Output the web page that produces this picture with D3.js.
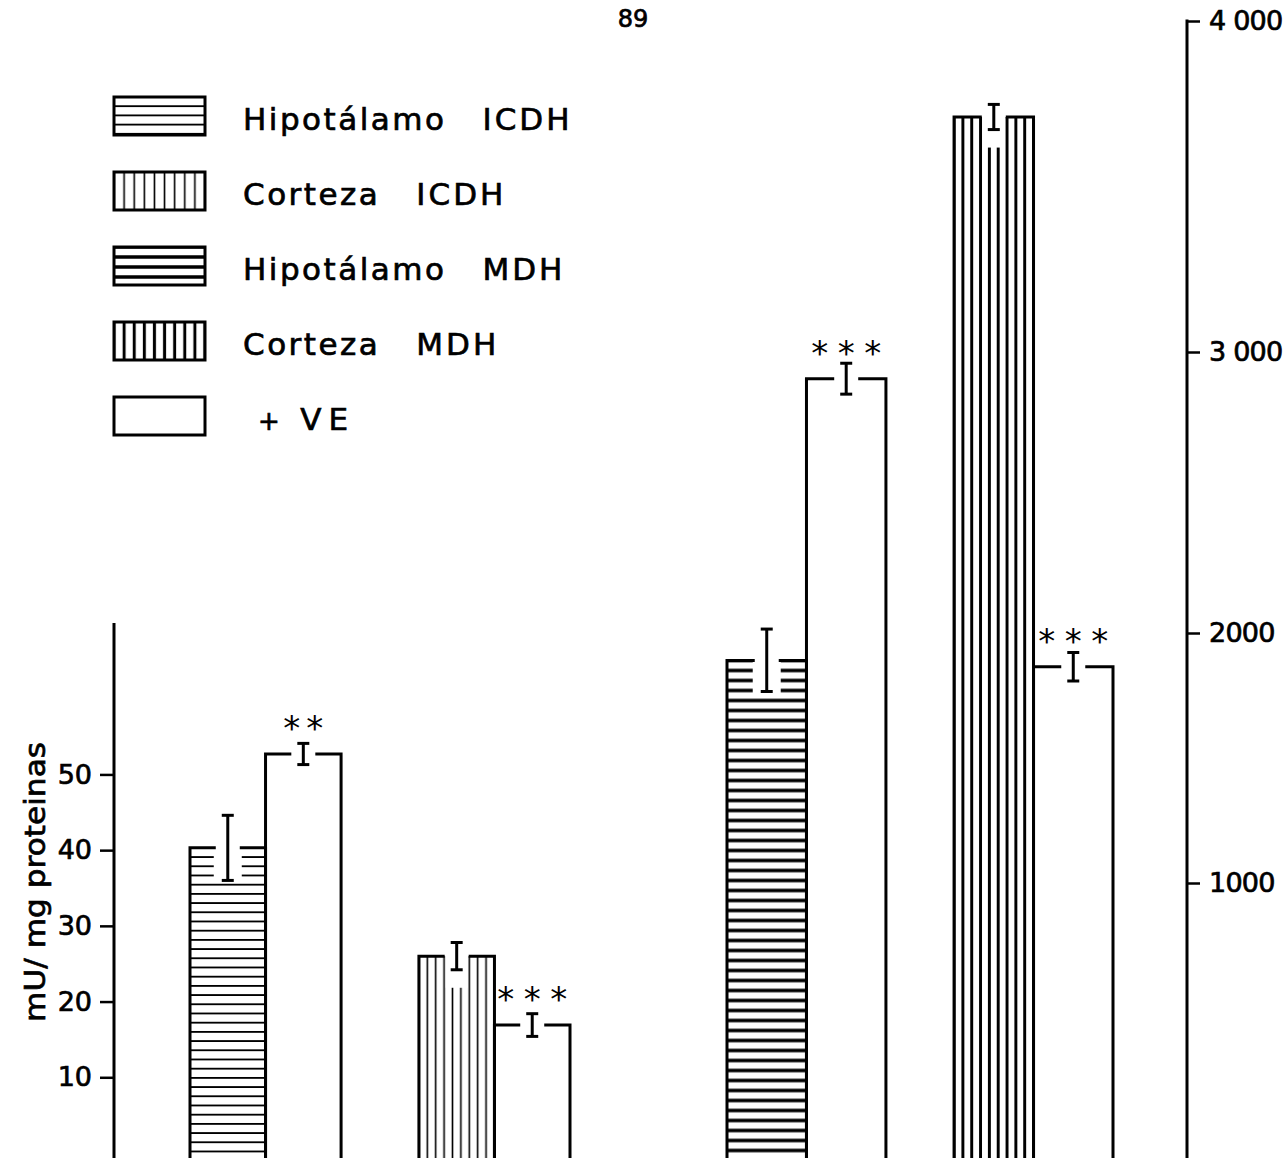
<!DOCTYPE html>
<html>
<head>
<meta charset="utf-8">
<script src="https://cdn.jsdelivr.net/npm/d3@7"></script>
<style>
  body { margin: 0; background: #fff; }
  svg { display: block; font-family: "DejaVu Sans", sans-serif; }
</style>
</head>
<body>
<svg id="fig" width="1288" height="1158"></svg>
<script>
// ICDH activity (left axis, mU/mg proteinas): control vs +VE, mean and error
const icdhTissues = ["Hipotálamo", "Corteza"];
const icdhControl = [40.3, 26.0];
const icdhControlErr = [4.3, 1.8];
const icdhVE = [52.7, 16.9];
const icdhVEErr = [1.4, 1.5];
const icdhSignif = ["* *", "* * *"];

// MDH activity (right axis)
const mdhTissues = ["Hipotálamo", "Corteza"];
const mdhControl = [1890, 3710];
const mdhControlErr = [124, 38];
const mdhVE = [2905, 1865];
const mdhVEErr = [55, 57];
const mdhSignif = ["* * *", "* * *"];

// axis ticks
const leftTicks = [10, 20, 30, 40, 50];
const rightTicks = [1000, 2000, 3000, 4000];
const rightTickLabels = ["1000", "2000", "3 000", "4 000"];

// legend entries: [tissue, enzyme]
const legendItems = [
  ["Hipotálamo", "ICDH"],
  ["Corteza", "ICDH"],
  ["Hipotálamo", "MDH"],
  ["Corteza", "MDH"],
  ["+", "VE"]
];

const W = 1288, H = 1158;
const plotBottom = H + 4;   // bars and axes run off the bottom edge of the sheet

const svg = d3.select("#fig");
const defs = svg.append("defs");

// hatching used for each tissue / enzyme
const hatchStyles = {
  "Hipotálamo ICDH": { dir: "h", step: 9.2, width: 1.9 },
  "Corteza ICDH":    { dir: "v", lines: 8, width: 1.6 },
  "Hipotálamo MDH":  { dir: "h", step: 10, width: 3.3 },
  "Corteza MDH":     { dir: "v", lines: 8, width: 3 }
};

let patCount = 0;
function hatchFill(style, x0, y0, w) {
  const id = "hatch" + (patCount++);
  const p = defs.append("pattern").attr("id", id).attr("patternUnits", "userSpaceOnUse");
  if (style.dir === "h") {
    const s = style.step;
    p.attr("x", 0).attr("y", y0 - s / 2).attr("width", 40).attr("height", s);
    p.append("rect").attr("width", 40).attr("height", s).attr("fill", "#fff");
    p.append("line").attr("x1", 0).attr("x2", 40).attr("y1", s / 2).attr("y2", s / 2)
      .attr("stroke", "#000").attr("stroke-width", style.width);
  } else {
    const s = w / (style.lines + 1);
    p.attr("x", x0 - s / 2).attr("y", 0).attr("width", s).attr("height", 40);
    p.append("rect").attr("width", s).attr("height", 40).attr("fill", "#fff");
    p.append("line").attr("x1", s / 2).attr("x2", s / 2).attr("y1", 0).attr("y2", 40)
      .attr("stroke", "#000").attr("stroke-width", style.width);
  }
  return `url(#${id})`;
}

// scales: left axis linear; right axis ruled by hand with unequal thousands
const yLeft = d3.scaleLinear().domain([0, 70]).range([1153, 623]);
const yRight = d3.scaleLinear()
  .domain([0, 1000, 2000, 3000, 4000])
  .range([1153, 883, 633, 352, 21]);

const xIcdh = d3.scaleBand().domain(icdhTissues).range([190, 570]).paddingInner(0.34);
const xMdh = d3.scaleBand().domain(mdhTissues).range([727, 1113]).paddingInner(0.3);

const plot = svg.append("g");
const ink = "#000";

function errorBar(x, yTop, yBot) {
  const g = plot.append("g").attr("stroke", ink).attr("stroke-width", 3).attr("fill", "none");
  g.append("line").attr("x1", x).attr("x2", x).attr("y1", yTop).attr("y2", yBot);
  g.append("line").attr("x1", x - 6).attr("x2", x + 6).attr("y1", yTop).attr("y2", yTop);
  g.append("line").attr("x1", x - 6).attr("x2", x + 6).attr("y1", yBot).attr("y2", yBot);
}

function outline(x0, w, yTop, xMid) {
  const gap = 12;
  const path = d3.path();
  path.moveTo(x0, plotBottom);
  path.lineTo(x0, yTop);
  path.lineTo(xMid - gap, yTop);
  path.moveTo(xMid + gap, yTop);
  path.lineTo(x0 + w, yTop);
  path.lineTo(x0 + w, plotBottom);
  plot.append("path").attr("d", path.toString())
    .attr("fill", "none").attr("stroke", ink).attr("stroke-width", 3)
    .attr("stroke-linejoin", "miter");
}

function drawBlock(tissues, enzyme, ctrl, ctrlErr, ve, veErr, signif, xScale, yScale) {
  const sub = d3.scaleBand().domain(["control", "ve"]).range([0, xScale.bandwidth()]);
  tissues.forEach((t, i) => {
    const gx = xScale(t);
    const style = hatchStyles[t + " " + enzyme];
    const w = sub.bandwidth();

    // control bar, hatched
    const cx0 = gx + sub("control");
    const cMid = cx0 + w / 2;
    const cTop = yScale(ctrl[i]);
    const ceTop = yScale(ctrl[i] + ctrlErr[i]);
    const ceBot = yScale(ctrl[i] - ctrlErr[i]);
    plot.append("rect").attr("x", cx0).attr("y", cTop)
      .attr("width", w).attr("height", plotBottom - cTop)
      .attr("fill", hatchFill(style, cx0, cTop, w));
    // hatching is left open around the error bar
    const clearHalf = style.dir === "h" ? 14 : 11;
    const clearBelow = style.dir === "h" ? 2 : 18;
    plot.append("rect").attr("x", cMid - clearHalf).attr("y", cTop - 2)
      .attr("width", 2 * clearHalf).attr("height", ceBot + clearBelow - cTop + 2)
      .attr("fill", "#fff");
    outline(cx0, w, cTop, cMid);
    errorBar(cMid, ceTop, ceBot);

    // +VE bar, open
    const vx0 = gx + sub("ve");
    const vMid = vx0 + w / 2;
    const vTop = yScale(ve[i]);
    outline(vx0, w, vTop, vMid);
    errorBar(vMid, yScale(ve[i] + veErr[i]), yScale(ve[i] - veErr[i]));

    // significance stars
    const nStars = signif[i].split("*").length - 1;
    plot.append("text")
      .attr("x", vMid).attr("y", vTop - 14)
      .attr("text-anchor", "middle")
      .attr("font-size", 34)
      .attr("textLength", nStars === 3 ? 70 : 40)
      .attr("lengthAdjust", "spacing")
      .attr("fill", ink)
      .text(signif[i]);
  });
}

drawBlock(icdhTissues, "ICDH", icdhControl, icdhControlErr, icdhVE, icdhVEErr, icdhSignif, xIcdh, yLeft);
drawBlock(mdhTissues, "MDH", mdhControl, mdhControlErr, mdhVE, mdhVEErr, mdhSignif, xMdh, yRight);

// lettering: slightly heavier than the plain face
function letter(sel) {
  return sel.attr("fill", ink).attr("stroke", ink).attr("stroke-width", 0.7);
}

// left axis
const axL = svg.append("g").attr("transform", "translate(114,0)")
  .call(d3.axisLeft(yLeft).tickValues(leftTicks).tickSize(14).tickPadding(8).tickSizeOuter(0));
axL.select(".domain").remove();
axL.selectAll(".tick line").attr("stroke", ink).attr("stroke-width", 2.5);
letter(axL.selectAll(".tick text").attr("font-size", 27).attr("font-family", "DejaVu Sans"));
axL.append("line").attr("x1", 0).attr("x2", 0)
  .attr("y1", yLeft(70)).attr("y2", plotBottom)
  .attr("stroke", ink).attr("stroke-width", 3);

// right axis
const axR = svg.append("g").attr("transform", "translate(1187,0)")
  .call(d3.axisRight(yRight).tickValues(rightTicks)
    .tickFormat((d, i) => rightTickLabels[i])
    .tickSize(13).tickPadding(9).tickSizeOuter(0));
axR.select(".domain").remove();
axR.selectAll(".tick line").attr("stroke", ink).attr("stroke-width", 2.5);
letter(axR.selectAll(".tick text").attr("font-size", 27).attr("letter-spacing", -0.8)
  .attr("font-family", "DejaVu Sans"));
axR.append("line").attr("x1", 0).attr("x2", 0)
  .attr("y1", yRight(4000) - 1.5).attr("y2", plotBottom)
  .attr("stroke", ink).attr("stroke-width", 3);

// axis title
letter(svg.append("text")
  .attr("transform", "translate(45,882) rotate(-90)")
  .attr("text-anchor", "middle")
  .attr("font-size", 29)
  .attr("textLength", 280)
  .attr("lengthAdjust", "spacingAndGlyphs")
  .text("mU/ mg proteinas"));

// page number
letter(svg.append("text")
  .attr("x", 633).attr("y", 27)
  .attr("text-anchor", "middle")
  .attr("font-size", 24)
  .text("89"));

// legend
const legend = svg.append("g");
legendItems.forEach((item, i) => {
  const top = 97 + i * 75;
  const bx = 114, bw = 91, bh = 38;
  const style = hatchStyles[item[0] + " " + item[1]];
  legend.append("rect").attr("x", bx).attr("y", top).attr("width", bw).attr("height", bh)
    .attr("fill", style ? hatchFill(style, bx, top, bw) : "#fff")
    .attr("stroke", ink).attr("stroke-width", 3);

  const isVE = item[0] === "+";
  const x1 = isVE ? 258 : 243;
  const t1 = letter(legend.append("text")
    .attr("x", x1).attr("y", top + 33)
    .attr("font-size", isVE ? 26 : 31)
    .attr("letter-spacing", 2.5)
    .text(item[0]));
  const end = x1 + t1.node().getComputedTextLength();
  letter(legend.append("text")
    .attr("x", end + (isVE ? 18 : 36)).attr("y", top + 33)
    .attr("font-size", 31)
    .attr("letter-spacing", isVE ? 7 : 3)
    .text(item[1]));
});
</script>
</body>
</html>
